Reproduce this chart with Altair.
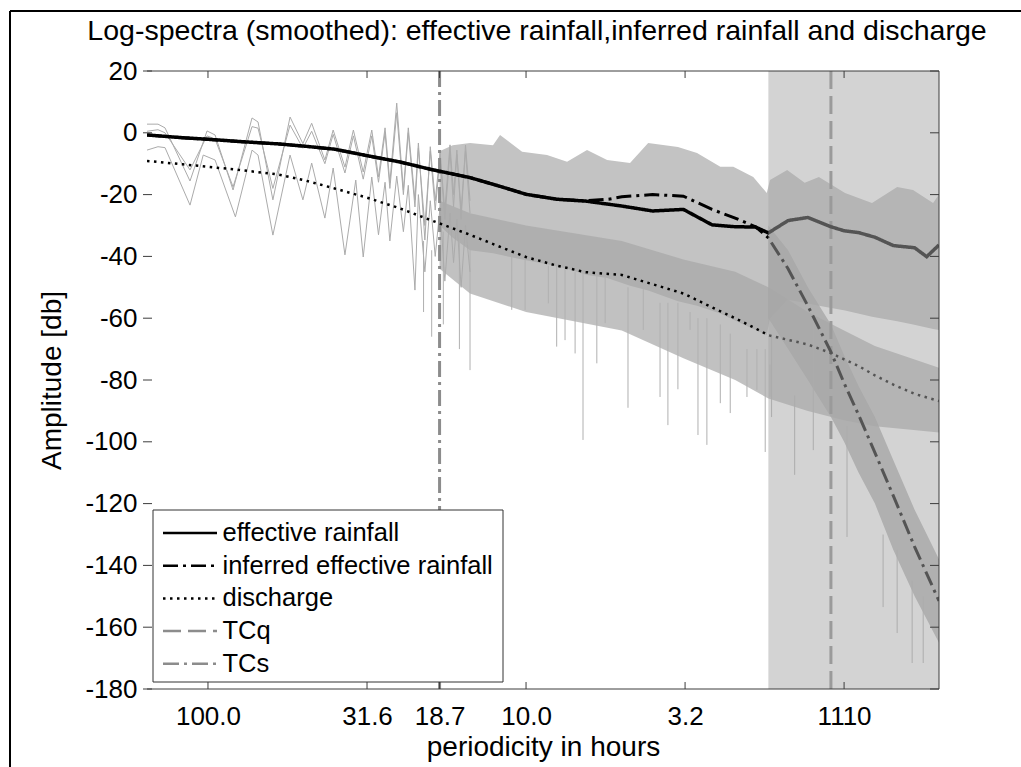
import altair as alt
import pandas as pd

FONT = "Liberation Sans"

# ---- data (x = periodicity in hours, y = amplitude in dB) ----
eff_p = [155.5, 120, 100, 80, 60, 50, 40, 31.6, 25, 20, 15, 12, 10, 8, 6.5, 5, 4, 3.2, 2.6, 2.2, 1.9, 1.73,
         1.5, 1.3, 1.1, 1.0, 0.9, 0.8, 0.7, 0.6, 0.55, 0.503]
eff_db = [-0.7, -1.6, -2.1, -2.8, -3.6, -4.3, -5.3, -7.4, -9.4, -11.8, -14.5, -17.4, -19.9, -21.5, -22.1, -23.7,
          -25.3, -24.8, -29.8, -30.4, -30.5, -32.4, -28.4, -27.4, -30.4, -31.7, -32.3, -33.8, -36.5, -37.2, -40.1, -36.3]

inf_p = [155.5, 120, 100, 80, 60, 50, 40, 31.6, 25, 20, 15, 12, 10, 8, 6.5, 5.5, 5, 4, 3.2, 2.6, 2.2, 1.9, 1.73,
         1.5, 1.3, 1.1, 1.0, 0.9, 0.8, 0.7, 0.6, 0.503]
inf_db = [-0.7, -1.6, -2.1, -2.8, -3.6, -4.3, -5.3, -7.4, -9.4, -11.8, -14.5, -17.4, -19.9, -21.5, -22.0, -21.5,
          -20.7, -20.0, -20.5, -24.8, -27.6, -30.4, -34.0, -44.0, -56.0, -70.9, -81.0, -91.3, -103.5, -117.5,
          -134.0, -151.5]

dis_p = [155.5, 120, 100, 80, 60, 50, 40, 31.6, 25, 20, 15, 12, 10, 8, 6.5, 5, 4, 3.2, 2.6, 2.2, 1.9, 1.73,
         1.5, 1.3, 1.1, 1.0, 0.9, 0.8, 0.7, 0.6, 0.503]
dis_db = [-9.1, -10.2, -11.0, -12.0, -13.5, -15.3, -18.0, -21.0, -24.4, -28.2, -33.0, -37.0, -40.2, -43.0, -45.1,
          -46.0, -49.0, -52.0, -56.5, -60.0, -63.3, -65.5, -67.0, -68.5, -71.3, -73.3, -75.5, -78.5, -81.5, -84.5,
          -86.8]

# raw (unsmoothed) spectra, low-frequency part
rawA_p = [155.5, 143.6, 136.5, 113.9, 100.7, 95.0, 83.4, 72.7, 69.6, 62.5, 55.2, 50.3, 47.2, 42.9, 40.4, 37.1,
          34.9, 32.5, 30.55, 29.1, 27.75, 26.8, 25.5, 24.3, 23.45, 22.35, 21.8, 20.8, 20.0, 19.3, 18.63, 18.0,
          17.34, 16.9, 16.5, 16.0, 15.5, 15.0]
rawA_db = [2.8, 2.8, 1.6, -15.6, 0.6, -0.7, -18.5, 4.8, 3.5, -21.7, 5.1, -3.5, 3.1, -8.8, 0.9, -11.1, 0.9, -12.7,
           0.9, -14.3, 1.6, -16.2, 9.6, -18.5, 1.6, -21.7, -3.3, -34.7, -4.5, -22.0, -6.5, -25.0, -3.9, -20.0,
           -5.6, -28.0, -4.0, -22.0]
rawB_p = rawA_p
rawB_db = [0.5, 1.0, 0.0, -12.0, -1.0, -2.0, -17.5, 2.0, 1.5, -18.0, 2.5, -5.0, 0.5, -10.0, -0.5, -13.0, -1.0,
           -15.0, -1.0, -16.0, 0.0, -18.0, 6.5, -20.0, 0.0, -24.0, -5.0, -30.0, -6.0, -25.0, -8.0, -28.0, -6.0,
           -24.0, -7.0, -25.0, -6.0, -26.0]
rawC_p = [155.5, 143.6, 136.5, 113.9, 103.5, 95.0, 82.0, 72.7, 69.6, 62.5, 55.2, 50.3, 47.2, 42.9, 40.4, 37.1,
          34.3, 32.5, 30.55, 29.1, 27.75, 26.8, 25.5, 24.3, 23.45, 22.35, 21.8, 20.8, 20.0, 19.3, 18.63, 18.0,
          17.34, 16.9, 16.5, 16.0, 15.5, 15.0]
rawC_db = [-5.6, -4.5, -4.8, -23.4, -7.2, -8.8, -27.2, -5.6, -7.2, -33.1, -7.2, -21.7, -9.8, -27.6, -11.4, -39.5,
           -15.3, -40.2, -14.3, -33.0, -16.0, -35.0, -14.0, -32.0, -17.0, -50.9, -20.0, -45.0, -22.0, -40.0, -24.0,
           -48.0, -26.0, -42.0, -28.0, -50.0, -30.0, -45.0]

# dense noise envelopes (upper / lower) of the raw spectra
bandR_p = [18.7, 17.0, 15.0, 12.7, 12.07, 10.29, 8.59, 7.43, 6.43, 5.56, 4.71, 4.13, 3.33, 2.90, 2.45, 2.23,
           1.93, 1.75, 1.71, 1.51, 1.33, 1.20, 0.993, 0.817, 0.681, 0.607, 0.525, 0.503]
bandR_hi = [-6.0, -4.0, -3.3, -4.0, -0.7, -6.1, -7.2, -9.4, -5.6, -8.8, -9.8, -3.3, -4.6, -6.5, -11.0, -11.0,
            -14.3, -19.5, -15.3, -12.0, -16.2, -14.3, -19.5, -22.7, -17.5, -18.5, -22.7, -20.0]
bandR_lo = [-30.0, -34.0, -38.0, -39.0, -39.5, -41.0, -42.5, -44.0, -46.0, -47.0, -49.5, -51.0, -54.5, -56.0,
            -58.5, -60.5, -63.5, -65.4, -60.0, -54.0, -55.0, -56.0, -57.5, -59.5, -61.0, -62.0, -63.5, -63.8]
bandQ_p = [18.7, 15, 10, 5, 3.2, 2.2, 1.73, 1.3, 1.0, 0.8, 0.503]
bandQ_hi = [-22.0, -26.0, -30.0, -35.0, -41.0, -45.0, -50.0, -58.0, -64.0, -69.0, -76.0]
bandQ_lo = [-44.0, -52.0, -58.0, -64.0, -73.0, -80.0, -86.0, -90.0, -93.0, -95.0, -97.0]
bandI_p = [1.73, 1.5, 1.3, 1.1, 1.0, 0.9, 0.8, 0.7, 0.6, 0.503]
bandI_hi = [-30.0, -38.0, -50.0, -62.0, -72.0, -82.0, -92.0, -106.0, -122.0, -138.0]
bandI_lo = [-60.0, -70.0, -80.0, -92.0, -100.0, -110.0, -120.0, -135.0, -150.0, -165.0]

spike_p = [21.0, 19.8, 18.2, 16.2, 15.0, 11.09, 10.07, 8.51, 8.01, 7.54, 7.01, 6.62, 5.99, 5.64, 4.78, 4.28,
           3.79, 3.58, 3.33, 3.05, 2.88, 2.70, 2.45, 2.28, 2.02, 1.88, 1.77, 1.71, 1.69, 1.43, 1.25, 0.979,
           0.754, 0.681, 0.611, 0.564]
spike_top = [-35, -38, -32, -35, -35, -40, -41, -43, -43, -44, -45, -45, -46, -47, -50, -50, -55, -55, -55, -58,
             -60, -60, -62, -65, -70, -70, -70, -75, -66, -85, -60, -95, -130, -135, -145, -150]
spike_bot = [-58.0, -66.0, -62.0, -70.0, -76.8, -57.3, -57.3, -55.2, -69.2, -67.1, -71.4, -99.4, -74.6, -61.6,
             -89.0, -63.8, -85.5, -94.6, -83.0, -63.8, -97.8, -101.0, -87.5, -90.7, -85.5, -83.2, -103.3, -85.4,
             -92.0, -110.7, -102.7, -130.8, -153.5, -161.9, -171.6, -171.6]

tcq_period = 1.1
tcs_period = 18.7
region_start, region_end = 1.73, 0.503
x_domain = [0.503, 155.5]
y_domain = [-180, 20]

x_tick_values = [100, 31.62, 18.7, 10, 3.162, 1.0]
x_tick_labels = ["100.0", "31.6", "18.7", "10.0", "3.2", "1110"]
y_tick_values = list(range(-180, 21, 20))

title_text = "Log-spectra (smoothed): effective rainfall,inferred rainfall and discharge"
series_names = ["effective rainfall", "inferred effective rainfall", "discharge", "TCq", "TCs"]
series_colors = ["#000000", "#000000", "#000000", "#8c8c8c", "#8c8c8c"]
series_dash = [[1, 0], [15, 5, 3, 5], [2.5, 4.5], [18, 7], [16, 5, 3, 5]]

# ---- tables ----
def line_df(name, p, db):
    return pd.DataFrame({"series": name, "p": p, "db": db})

eff_df = line_df("effective rainfall", eff_p, eff_db)
inf_df = line_df("inferred effective rainfall", inf_p, inf_db)
dis_df = line_df("discharge", dis_p, dis_db)
tc_df = pd.DataFrame({"series": ["TCq", "TCs"], "p": [tcq_period, tcs_period]})
raw_df = pd.concat([
    pd.DataFrame({"trace": "A", "p": rawA_p, "db": rawA_db}),
    pd.DataFrame({"trace": "B", "p": rawB_p, "db": rawB_db}),
    pd.DataFrame({"trace": "C", "p": rawC_p, "db": rawC_db}),
])
bandR_df = pd.DataFrame({"p": bandR_p, "hi": bandR_hi, "lo": bandR_lo})
bandQ_df = pd.DataFrame({"p": bandQ_p, "hi": bandQ_hi, "lo": bandQ_lo})
bandI_df = pd.DataFrame({"p": bandI_p, "hi": bandI_hi, "lo": bandI_lo})
spike_df = pd.DataFrame({"p": spike_p, "top": spike_top, "bot": spike_bot})
region_df = pd.DataFrame({"start": [region_start], "end": [region_end], "lo": [y_domain[0]], "hi": [y_domain[1]]})
xt_df = pd.DataFrame({"p": x_tick_values})
yt_df = pd.DataFrame({"db": y_tick_values})
one_df = pd.DataFrame({"k": [0]})
legend_df = pd.DataFrame({"series": series_names, "row": list(range(len(series_names)))})

W, H = 792, 618

xs = alt.Scale(type="log", domain=x_domain, reverse=True, nice=False)
ys = alt.Scale(domain=y_domain, nice=False)

x_label_expr = " : ".join(f"datum.value == {v} ? '{l}'" for v, l in zip(x_tick_values, x_tick_labels)) + " : ''"
x_axis = alt.Axis(values=x_tick_values, labelExpr=x_label_expr, title="periodicity in hours", ticks=False,
                  tickSize=0, domain=False, grid=False, labelFont=FONT, titleFont=FONT, labelFontSize=26,
                  titleFontSize=28, labelColor="black", titleColor="black", titleFontWeight="normal",
                  labelPadding=14, titlePadding=4, labelOverlap=False, labelFlush=False, zindex=1)
y_axis = alt.Axis(values=y_tick_values,
                  labelExpr="datum.value < 0 ? '-' + abs(datum.value) : '' + datum.value",
                  title="Amplitude [db]", ticks=False, tickSize=0, domain=False, grid=False, labelFont=FONT,
                  titleFont=FONT, labelFontSize=26, titleFontSize=28, labelColor="black", titleColor="black",
                  titleFontWeight="normal", labelPadding=10, titlePadding=18, labelOverlap=False,
                  labelFlush=False, zindex=1)

X = lambda f="p": alt.X(f"{f}:Q", scale=xs, axis=x_axis)
Y = lambda f="db": alt.Y(f"{f}:Q", scale=ys, axis=y_axis)

col = alt.Color("series:N", scale=alt.Scale(domain=series_names, range=series_colors), legend=None)
dash = alt.StrokeDash("series:N", scale=alt.Scale(domain=series_names, range=series_dash), legend=None)

bandR = alt.Chart(bandR_df).mark_area(color="#c3c3c3", clip=True).encode(x=X(), y=Y("hi"), y2="lo:Q")
bandQ = alt.Chart(bandQ_df).mark_area(color="#a6a6a6", opacity=0.7, clip=True).encode(
    x=X(), y=Y("hi"), y2="lo:Q")
bandI = alt.Chart(bandI_df).mark_area(color="#a6a6a6", opacity=0.8, clip=True).encode(
    x=X(), y=Y("hi"), y2="lo:Q")
spikes = alt.Chart(spike_df).mark_rule(color="#b0b0b0", strokeWidth=1, clip=True).encode(
    x=X(), y=Y("top"), y2="bot:Q")
raw = alt.Chart(raw_df).mark_line(color="#ababab", strokeWidth=1, clip=True).encode(
    x=X(), y=Y(), detail="trace:N")
tc = alt.Chart(tc_df).mark_rule(strokeWidth=3).encode(x=X(), color=col, strokeDash=dash)
inf_line = alt.Chart(inf_df).mark_line(strokeWidth=3, clip=True).encode(x=X(), y=Y(), color=col, strokeDash=dash)
eff_line = alt.Chart(eff_df).mark_line(strokeWidth=3.5, clip=True).encode(x=X(), y=Y(), color=col, strokeDash=dash)
dis_line = alt.Chart(dis_df).mark_line(strokeWidth=2.5, clip=True).encode(x=X(), y=Y(), color=col, strokeDash=dash)
overlay = alt.Chart(region_df).mark_rect(color="#a8a8a8", opacity=0.5).encode(
    x=X("start"), x2="end:Q", y=Y("hi"), y2="lo:Q")

spine_col = "#3c3c3c"
top_spine = alt.Chart(one_df).mark_rule(color=spine_col, strokeWidth=1).encode(
    x=alt.value(0), x2=alt.value(W), y=alt.value(0))
bot_spine = alt.Chart(one_df).mark_rule(color=spine_col, strokeWidth=1).encode(
    x=alt.value(0), x2=alt.value(W), y=alt.value(H))
right_spine = alt.Chart(one_df).mark_rule(color=spine_col, strokeWidth=1).encode(
    x=alt.value(W), y=alt.value(0), y2=alt.value(H))
xt_bot = alt.Chart(xt_df).mark_rule(color=spine_col, strokeWidth=1).encode(
    x=X(), y=alt.value(H), y2=alt.value(H - 7))
xt_top = alt.Chart(xt_df).mark_rule(color=spine_col, strokeWidth=1).encode(
    x=X(), y=alt.value(0), y2=alt.value(7))
yt_left = alt.Chart(yt_df).mark_rule(color=spine_col, strokeWidth=1).encode(
    y=Y(), x=alt.value(-4), x2=alt.value(5))
yt_right = alt.Chart(yt_df).mark_rule(color=spine_col, strokeWidth=1).encode(
    y=Y(), x=alt.value(W), x2=alt.value(W - 9))
frame_left = alt.Chart(one_df).mark_rule(color="black", strokeWidth=2).encode(
    x=alt.value(-137), y=alt.value(-60), y2=alt.value(800))
frame_top = alt.Chart(one_df).mark_rule(color="black", strokeWidth=2).encode(
    x=alt.value(-137), x2=alt.value(1000), y=alt.value(-60))
title = alt.Chart(one_df).mark_text(font=FONT, fontSize=28.5, color="black", align="center",
                                    baseline="alphabetic").encode(
    x=alt.value(W / 2 - 6), y=alt.value(-31), text=alt.value(title_text))

# legend box (drawn as marks so that its rows match the reference spacing)
LEG_X0, LEG_X1, LEG_Y0, LEG_Y1 = 6, 356, 439, 611
ROW0, ROW_STEP = 462, 32.7
leg_box = alt.Chart(one_df).mark_rect(fill="white", stroke="#333333", strokeWidth=1).encode(
    x=alt.value(LEG_X0), x2=alt.value(LEG_X1), y=alt.value(LEG_Y0), y2=alt.value(LEG_Y1))
leg_base = alt.Chart(legend_df).transform_calculate(ly=f"{ROW0} + datum.row * {ROW_STEP}")
leg_lines = leg_base.mark_rule(strokeWidth=2.5).encode(
    x=alt.value(16), x2=alt.value(70), y=alt.Y("ly:Q", scale=None), color=col, strokeDash=dash)
leg_text = leg_base.mark_text(font=FONT, fontSize=25.5, color="black", align="left", baseline="middle").encode(
    x=alt.value(75.5), y=alt.Y("ly:Q", scale=None), text="series:N")

chart = alt.layer(
    bandR, bandQ, bandI, spikes, raw, tc, inf_line, eff_line, dis_line, overlay,
    top_spine, bot_spine, right_spine, xt_bot, xt_top, yt_left, yt_right, frame_left, frame_top, title,
    leg_box, leg_lines, leg_text
).properties(
    width=W, height=H,
    padding={"left": 147, "top": 71, "right": 82, "bottom": 78},
    autosize=alt.AutoSizeParams(type="none"),
    background="white",
).configure_view(stroke=None)

chart.save("out.html", embed_options={"renderer": "svg", "actions": False})
